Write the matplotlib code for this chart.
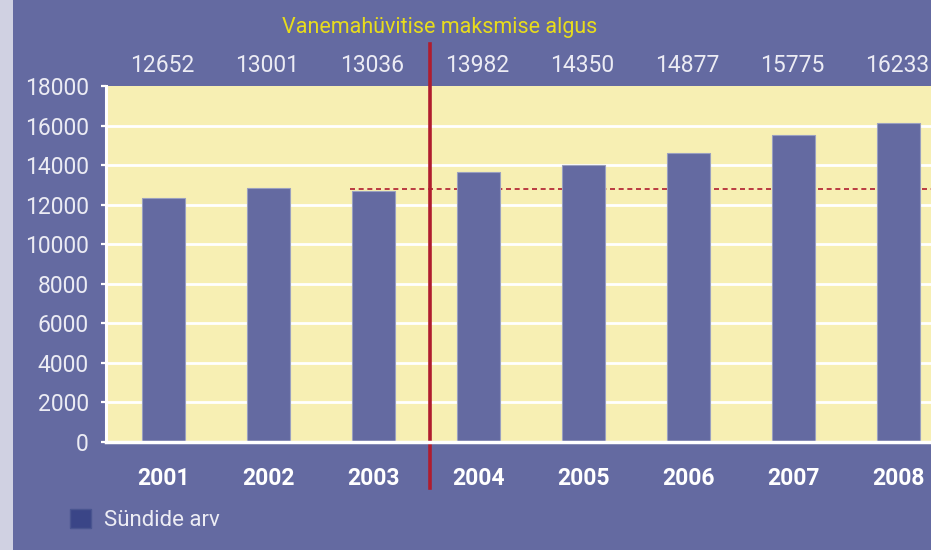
import matplotlib
matplotlib.use("Agg")
import matplotlib.pyplot as plt
from matplotlib.patches import Rectangle, Patch
import matplotlib.transforms as mtransforms

# ---- data ----
years = ["2001", "2002", "2003", "2004", "2005", "2006", "2007", "2008"]
births_bar = [12350, 12820, 12680, 13670, 13990, 14620, 15530, 16140]
births_label = ["12652", "13001", "13036", "13982", "14350", "14877", "15775", "16233"]
reference_level = 12780
yticks = [0, 2000, 4000, 6000, 8000, 10000, 12000, 14000, 16000, 18000]
title = "Vanemahüvitise maksmise algus"
legend_label = "Sündide arv"

# ---- styles ----
BG = "#646aa1"
STRIPE = "#d0d1e2"
PLOT_BG = "#f7efb3"
BAR = "#646aa1"
BAR_EDGE = "#9aa0c0"
RED = "#b01c2e"
YELLOW = "#e8dc1c"
TXT = "#ececf4"
LEG = "#3a4587"

plt.rcParams["font.family"] = ["Roboto", "DejaVu Sans"]

W, H = 931, 550
fig = plt.figure(figsize=(W / 100, H / 100), dpi=100)
fig.patch.set_facecolor(BG)
fig.patches.append(Rectangle((0, 0), 13 / W, 1, transform=fig.transFigure,
                             facecolor=STRIPE, edgecolor="none", zorder=0))

ax = fig.add_axes([106 / W, 1 - 442 / H, (W - 106) / W, (442 - 86) / H])
ax.set_facecolor(PLOT_BG)

x = list(range(len(years)))
ax.bar(x, births_bar, width=0.41, color=BAR, edgecolor=BAR_EDGE, linewidth=0.8, zorder=3)

ax.set_ylim(0, 18000)
ax.set_xlim(-0.552, 7.305)

ax.set_yticks(yticks)
ax.set_yticklabels([str(v) for v in yticks])
for v in yticks[1:-1]:
    ax.axhline(v, color="white", linewidth=2, zorder=1)

# dashed reference level
ax.plot([1.77, 7.4], [reference_level, reference_level], color=RED,
        linestyle=(0, (3, 2.2)), linewidth=1.2, zorder=2)

# vertical red line
ax.axvline(2.533, ymin=-0.129, ymax=1.118, color=RED, linewidth=2.6,
           clip_on=False, zorder=5)

for s in ["top", "right"]:
    ax.spines[s].set_visible(False)
ax.spines["left"].set_color("white")
ax.spines["left"].set_linewidth(2.2)
ax.spines["bottom"].set_color("white")
ax.spines["bottom"].set_linewidth(2.5)
ax.spines["bottom"].set_zorder(6)

ax.tick_params(axis="y", colors="white", length=3.5, width=1.6, pad=9,
               labelsize=16.5, labelcolor=TXT)
ax.set_xticks(x)
ax.set_xticklabels(years, fontweight="bold")
ax.tick_params(axis="x", length=0, pad=18, labelsize=16.5, labelcolor="white")

# top value labels
trans = mtransforms.blended_transform_factory(ax.transData, ax.transAxes)
for xi, lab in zip(x, births_label):
    ax.text(xi - 0.02, (442 - 65) / 356, lab, transform=trans, ha="center",
            va="center", fontsize=16.5, color=TXT, clip_on=False)

fig.text(440 / W, 1 - 28 / H, title, ha="center", va="center",
         fontsize=15.5, color=YELLOW)

leg = fig.legend(handles=[Patch(facecolor=LEG, edgecolor="#4a5590", label=legend_label)],
                 loc="center left", bbox_to_anchor=(70 / W, 1 - 520 / H),
                 frameon=False, borderpad=0, borderaxespad=0,
                 handlelength=0.95, handleheight=0.95, handletextpad=0.6,
                 fontsize=16)
for t in leg.get_texts():
    t.set_color(TXT)

fig.savefig("out.png", dpi=100, facecolor=BG)
